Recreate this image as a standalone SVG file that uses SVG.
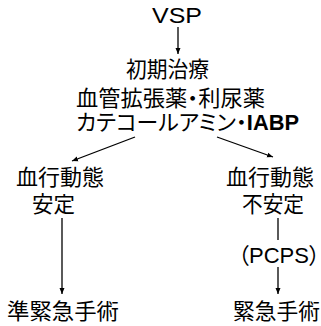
<svg xmlns="http://www.w3.org/2000/svg" width="321" height="326" viewBox="0 0 321 326">
<defs>
<marker id="ah" markerWidth="8" markerHeight="8" refX="6" refY="3" orient="auto" markerUnits="userSpaceOnUse">
<path d="M0,0.5 L6,3 L0,5.5 Z" fill="#000"/>
</marker>
<style>
text{font-family:"Liberation Sans","Noto Sans CJK JP",sans-serif;font-size:22px;fill:#000;font-feature-settings:"palt"}
.c{stroke:#000;stroke-width:1.3;fill:none}
.b{font-weight:bold}
</style>
</defs>
<rect width="321" height="326" fill="#fff"/>
<g id="connectors">
<line class="c" x1="178" y1="27" x2="178" y2="54" marker-end="url(#ah)"/>
<line class="c" x1="135" y1="137" x2="72" y2="161" marker-end="url(#ah)"/>
<line class="c" x1="217" y1="137" x2="273" y2="157" marker-end="url(#ah)"/>
<line class="c" x1="62" y1="218" x2="62" y2="294" marker-end="url(#ah)"/>
<line class="c" x1="278" y1="218" x2="278" y2="240"/>
<line class="c" x1="278" y1="267" x2="278" y2="294" marker-end="url(#ah)"/>
</g>
<g id="vsp"><text x="152" y="23" textLength="50" lengthAdjust="spacingAndGlyphs">VSP</text></g>
<g id="initial">
<text x="126" y="76.5" textLength="83" lengthAdjust="spacingAndGlyphs">初期治療</text>
<text x="76" y="105.5" textLength="189" lengthAdjust="spacingAndGlyphs">血管拡張薬・利尿薬</text>
<text x="76" y="130" textLength="223" lengthAdjust="spacingAndGlyphs">カテコールアミン・<tspan class="b">IABP</tspan></text>
</g>
<g id="stable">
<text x="16" y="184.5" textLength="88" lengthAdjust="spacingAndGlyphs">血行動態</text>
<text x="32" y="212" textLength="43" lengthAdjust="spacingAndGlyphs">安定</text>
</g>
<g id="unstable">
<text x="226" y="184.5" textLength="88" lengthAdjust="spacingAndGlyphs">血行動態</text>
<text x="242" y="212" textLength="62" lengthAdjust="spacingAndGlyphs">不安定</text>
</g>
<g id="pcps"><text x="238" y="263" textLength="82" lengthAdjust="spacingAndGlyphs">（PCPS）</text></g>
<g id="semi"><text x="7" y="318.5" textLength="112" lengthAdjust="spacingAndGlyphs">準緊急手術</text></g>
<g id="emergency"><text x="233" y="318.5" textLength="87" lengthAdjust="spacingAndGlyphs">緊急手術</text></g>
</svg>
